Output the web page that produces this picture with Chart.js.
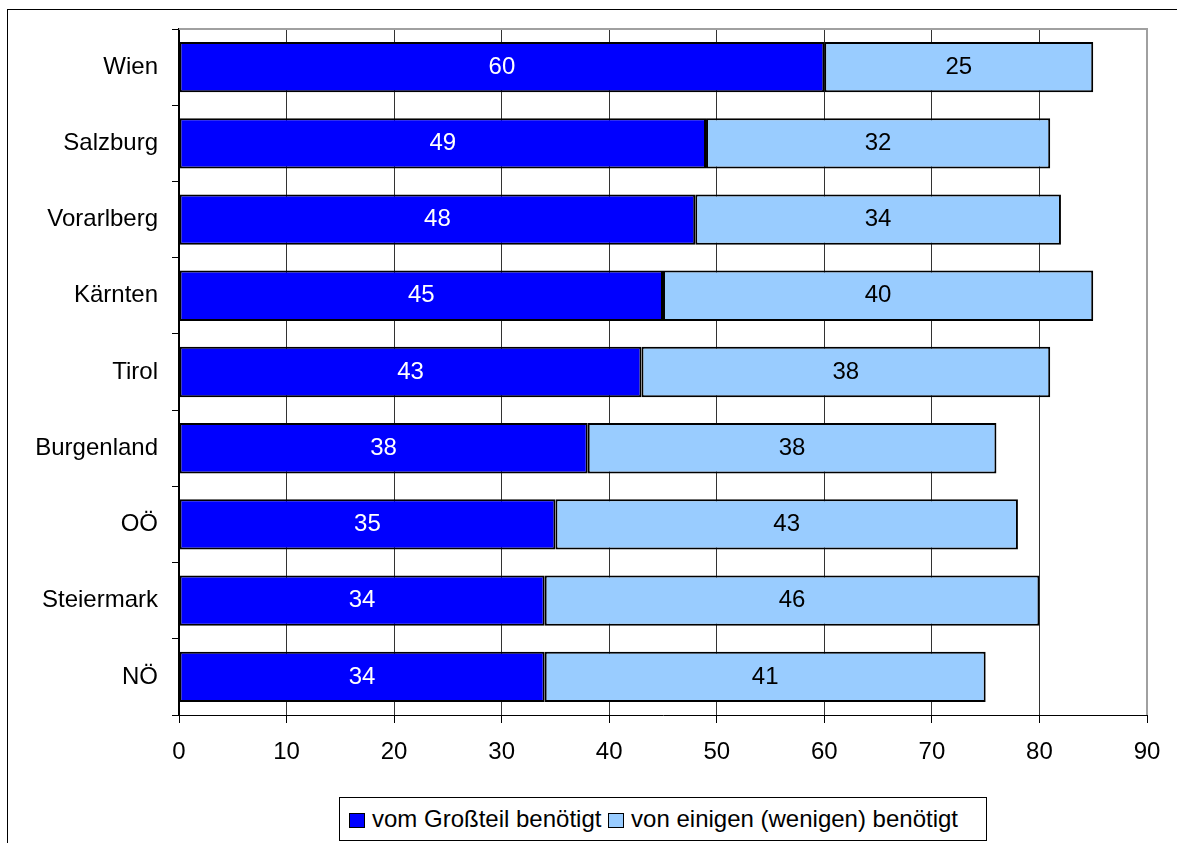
<!DOCTYPE html>
<html>
<head>
<meta charset="utf-8">
<script src="https://cdn.jsdelivr.net/npm/chart.js@4/dist/chart.umd.min.js"></script>
<style>
html,body{margin:0;padding:0;background:#fff;}
#wrap{position:relative;width:1177px;height:843px;overflow:hidden;}
#frame{position:absolute;left:7px;top:9px;width:1200px;height:900px;border:1px solid #000;box-sizing:border-box;}
canvas{position:absolute;left:0;top:0;}
#legend{position:absolute;left:339px;top:797px;width:648px;height:44px;border:1px solid #000;box-sizing:border-box;background:#fff;
 font-family:"Liberation Sans",Arial,sans-serif;font-size:24px;line-height:42px;color:#000;padding:0 0 0 9px;white-space:nowrap;}
.sw{display:inline-block;width:16px;height:15px;border:1px solid #000;box-sizing:border-box;margin-right:7px;vertical-align:-1px;}
</style>
</head>
<body>
<div id="wrap">
<div id="frame"></div>
<canvas id="c" width="1177" height="843"></canvas>
<div id="legend"><span class="sw" style="background:#0000FF"></span>vom Großteil benötigt <span class="sw" style="background:#99CCFF"></span>von einigen (wenigen) benötigt</div>
</div>
<script>
const categories = ["Wien","Salzburg","Vorarlberg","Kärnten","Tirol","Burgenland","OÖ","Steiermark","NÖ"];
const seriesNames = ["vom Großteil benötigt","von einigen (wenigen) benötigt"];
const grossteil = [60,49,48,45,43,38,35,34,34];
const einige = [25,32,34,40,38,38,43,46,41];
const xTicks = [0,10,20,30,40,50,60,70,80,90];

const FONT = {family:"Liberation Sans, Arial, sans-serif", size:24};

const labelPlugin = {
  id:'barLabels',
  afterDatasetsDraw(chart){
    const ctx = chart.ctx;
    ctx.save();
    ctx.font = "24px 'Liberation Sans', Arial, sans-serif";
    ctx.textAlign='center'; ctx.textBaseline='middle';
    chart.data.datasets.forEach((ds,i)=>{
      const meta = chart.getDatasetMeta(i);
      meta.data.forEach((bar,j)=>{
        const cx = (bar.x + bar.base)/2;
        ctx.fillStyle = i===0 ? '#fff' : '#000';
        ctx.fillText(String(ds.data[j]), cx, bar.y);
      });
    });
    ctx.restore();
  }
};
const framePlugin = {
  id:'plotFrame',
  beforeDatasetsDraw(chart){
    const {ctx, chartArea:a} = chart;
    ctx.save();
    ctx.strokeStyle='#a0a0a0'; ctx.lineWidth=2;
    ctx.beginPath();
    ctx.moveTo(a.left, a.top); ctx.lineTo(a.right, a.top); ctx.lineTo(a.right, a.bottom);
    ctx.stroke();
    ctx.restore();
  }
};

new Chart(document.getElementById('c'), {
  type:'bar',
  data:{
    labels:categories,
    datasets:[
      {label:seriesNames[0], data:grossteil, backgroundColor:'#0000FF', borderColor:'#000', borderWidth:2, borderSkipped:false, barPercentage:0.66, categoryPercentage:1},
      {label:seriesNames[1], data:einige, backgroundColor:'#99CCFF', borderColor:'#000', borderWidth:2, borderSkipped:false, barPercentage:0.66, categoryPercentage:1}
    ]
  },
  options:{
    indexAxis:'y',
    responsive:false,
    animation:false,
    devicePixelRatio:1,
    layout:{padding:{top:29,right:30,left:0,bottom:68}},
    plugins:{legend:{display:false}, tooltip:{enabled:false}},
    scales:{
      x:{
        stacked:true, min:0, max:90,
        afterBuildTicks(s){ s.ticks = xTicks.map(v=>({value:v})); },
        afterFit(s){ s.height = 60; },
        ticks:{color:'#000', font:FONT, padding:15, maxRotation:0},
        grid:{color:(c)=> c.tick && c.tick.value===90 ? '#a0a0a0' : '#333', lineWidth:1, tickLength:8, tickColor:'#000', drawTicks:true},
        border:{color:'#000', width:1}
      },
      y:{
        stacked:true,
        afterFit(s){ s.width = 179; },
        ticks:{color:'#000', font:FONT, padding:14},
        grid:{drawOnChartArea:false, offset:true, tickLength:7, tickColor:'#000'},
        border:{color:'#000', width:2}
      }
    }
  },
  plugins:[framePlugin, labelPlugin]
});
</script>
</body>
</html>
